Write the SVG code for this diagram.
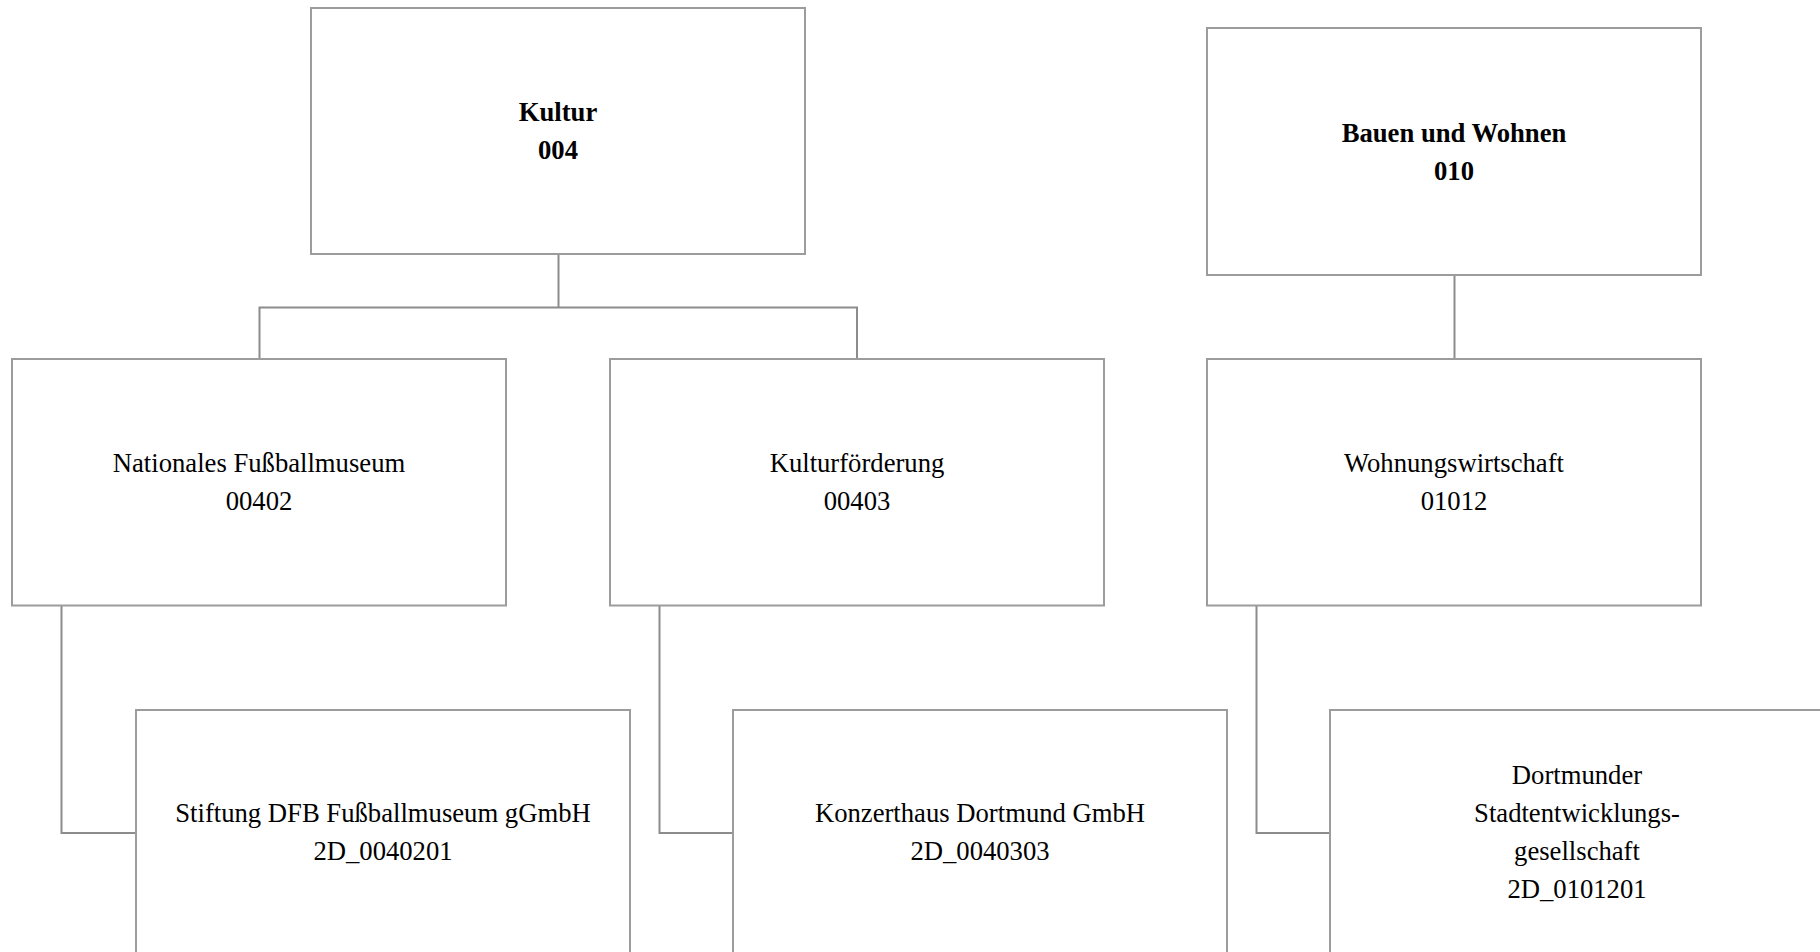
<svg xmlns="http://www.w3.org/2000/svg" width="1820" height="952" viewBox="0 0 1820 952">
<style>
.box{fill:#ffffff;stroke:#9c9c9c;stroke-width:2}
.con{fill:none;stroke:#8c8c8c;stroke-width:2}
text{font-family:"Liberation Serif","Times New Roman",serif;font-size:26.67px;fill:#000;text-anchor:middle}
.b{font-weight:bold}
</style>
<rect width="1820" height="952" fill="#ffffff"/>
<g id="connectors">
<path class="con" d="M558.5 254 V307.5 M259.5 359 V307.5 H857 V359"/>
<path class="con" d="M1454.5 275 V359"/>
<path class="con" d="M61.5 605.5 V833 H136"/>
<path class="con" d="M659.5 605.5 V833 H733"/>
<path class="con" d="M1256.5 605.5 V833 H1330"/>
</g>
<g id="kultur">
<rect class="box" x="311" y="8" width="494" height="246"/>
<text class="b" x="558" y="121">Kultur</text>
<text class="b" x="558" y="159">004</text>
</g>
<g id="bauen">
<rect class="box" x="1207" y="28" width="494" height="247"/>
<text class="b" x="1454" y="141.5">Bauen und Wohnen</text>
<text class="b" x="1454" y="179.5">010</text>
</g>
<g id="n00402">
<rect class="box" x="12" y="359" width="494" height="246.5"/>
<text x="259" y="472">Nationales Fußballmuseum</text>
<text x="259" y="510">00402</text>
</g>
<g id="n00403">
<rect class="box" x="610" y="359" width="494" height="246.5"/>
<text x="857" y="472">Kulturförderung</text>
<text x="857" y="510">00403</text>
</g>
<g id="n01012">
<rect class="box" x="1207" y="359" width="494" height="246.5"/>
<text x="1454" y="472">Wohnungswirtschaft</text>
<text x="1454" y="510">01012</text>
</g>
<g id="n0040201">
<rect class="box" x="136" y="710" width="494" height="246"/>
<text x="383" y="822">Stiftung DFB Fußballmuseum gGmbH</text>
<text x="383" y="860">2D_0040201</text>
</g>
<g id="n0040303">
<rect class="box" x="733" y="710" width="494" height="246"/>
<text x="980" y="822">Konzerthaus Dortmund GmbH</text>
<text x="980" y="860">2D_0040303</text>
</g>
<g id="n0101201">
<rect class="box" x="1330" y="710" width="494" height="246"/>
<text x="1577" y="784">Dortmunder</text>
<text x="1577" y="822">Stadtentwicklungs-</text>
<text x="1577" y="860">gesellschaft</text>
<text x="1577" y="898">2D_0101201</text>
</g>
</svg>
